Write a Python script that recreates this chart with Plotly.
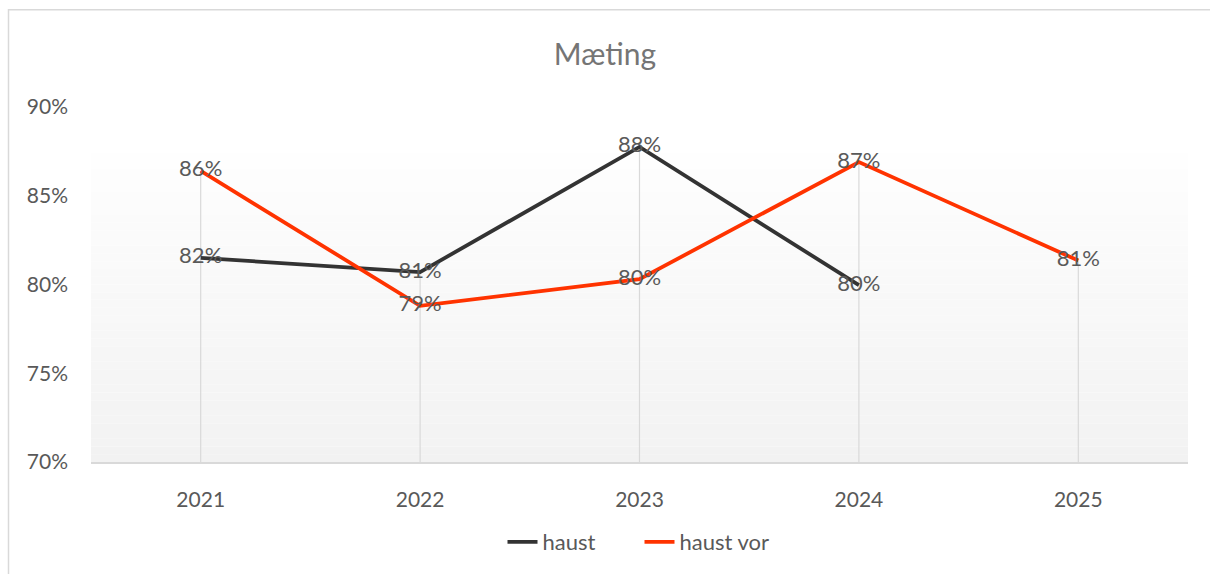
import plotly.graph_objects as go

categories = ["2021", "2022", "2023", "2024", "2025"]
haust = [0.815, 0.807, 0.8775, 0.7996, None]
haust_vor = [0.864, 0.788, 0.803, 0.869, 0.8135]
series_names = ["haust", "haust vor"]
y_ticks = [0.70, 0.75, 0.80, 0.85, 0.90]
y_tick_labels = ["70%", "75%", "80%", "85%", "90%"]

FONT = "Lato"
TXT = "#595959"

fig = go.Figure()

# drop lines from the higher point of each category to the axis
dx, dy = [], []
for i, c in enumerate(categories):
    vals = [v for v in (haust[i], haust_vor[i]) if v is not None]
    dx += [c, c, None]
    dy += [y_ticks[0], max(vals), None]
fig.add_trace(go.Scatter(x=dx, y=dy, mode="lines", line=dict(color="#d9d9d9", width=1.2),
                         showlegend=False, hoverinfo="skip"))

def labels(vals):
    return [None if v is None else f"{round(v*100):.0f}%" for v in vals]

fig.add_trace(go.Scatter(x=categories, y=haust, name=series_names[0], mode="lines+text",
                         line=dict(color="#333333", width=3.8),
                         text=labels(haust), textposition="middle center",
                         textfont=dict(family=FONT, size=22, color=TXT)))
fig.add_trace(go.Scatter(x=categories, y=haust_vor, name=series_names[1], mode="lines+text",
                         line=dict(color="#ff3300", width=3.8),
                         text=labels(haust_vor), textposition="middle center",
                         textfont=dict(family=FONT, size=22, color=TXT)))

# plot area gradient (white at top -> light gray at bottom)
shapes = []
n = 40
top = 0.87
for k in range(n):
    y0 = top * k / n
    y1 = top * (k + 1) / n
    t = (k + 0.5) / n
    g = int(round(242 + (254 - 242) * t))
    shapes.append(dict(type="rect", xref="paper", yref="paper", x0=0, x1=1, y0=y0, y1=y1,
                       fillcolor=f"rgb({g},{g},{g})", line=dict(width=0), layer="below"))
# chart border (top and left visible)
W, H = 1097, 356
shapes.append(dict(type="rect", xref="paper", yref="paper",
                   x0=(8.5 - 91) / W, x1=(1215 - 91) / W,
                   y0=(463 - 580) / H, y1=(463 - 9.5) / H,
                   line=dict(color="#d9d9d9", width=1.5), fillcolor="rgba(0,0,0,0)", layer="below"))

fig.update_layout(
    width=1210, height=574,
    margin=dict(l=91, r=22, t=107, b=111),
    paper_bgcolor="white", plot_bgcolor="white",
    font=dict(family=FONT, color=TXT),
    title=dict(text="Mæting", x=0.5, xanchor="center", y=1 - 54 / 574, yanchor="middle",
               font=dict(family=FONT, size=30, color="#757575")),
    showlegend=True,
    legend=dict(orientation="h", x=0.5, xanchor="center", y=(463 - 542) / 356, yanchor="middle",
                font=dict(family=FONT, size=22, color=TXT), bgcolor="rgba(0,0,0,0)",
                entrywidth=92, entrywidthmode="pixels"),
    shapes=shapes,
)
fig.update_xaxes(type="category", range=[-0.5, 4.5], showgrid=False, showline=True,
                 linecolor="#d9d9d9", linewidth=1.5, ticks="", zeroline=False,
                 tickfont=dict(family=FONT, size=21, color=TXT), ticklabelstandoff=18)
fig.update_yaxes(range=[0.70, 0.90], tickvals=y_ticks, ticktext=y_tick_labels, showgrid=False,
                 showline=False, zeroline=False, ticks="",
                 tickfont=dict(family=FONT, size=21, color=TXT), ticklabelstandoff=22)

fig.write_html("out.html", config={"displayModeBar": False},
               post_script="document.body.style.margin='0';document.body.style.overflow='hidden';")
